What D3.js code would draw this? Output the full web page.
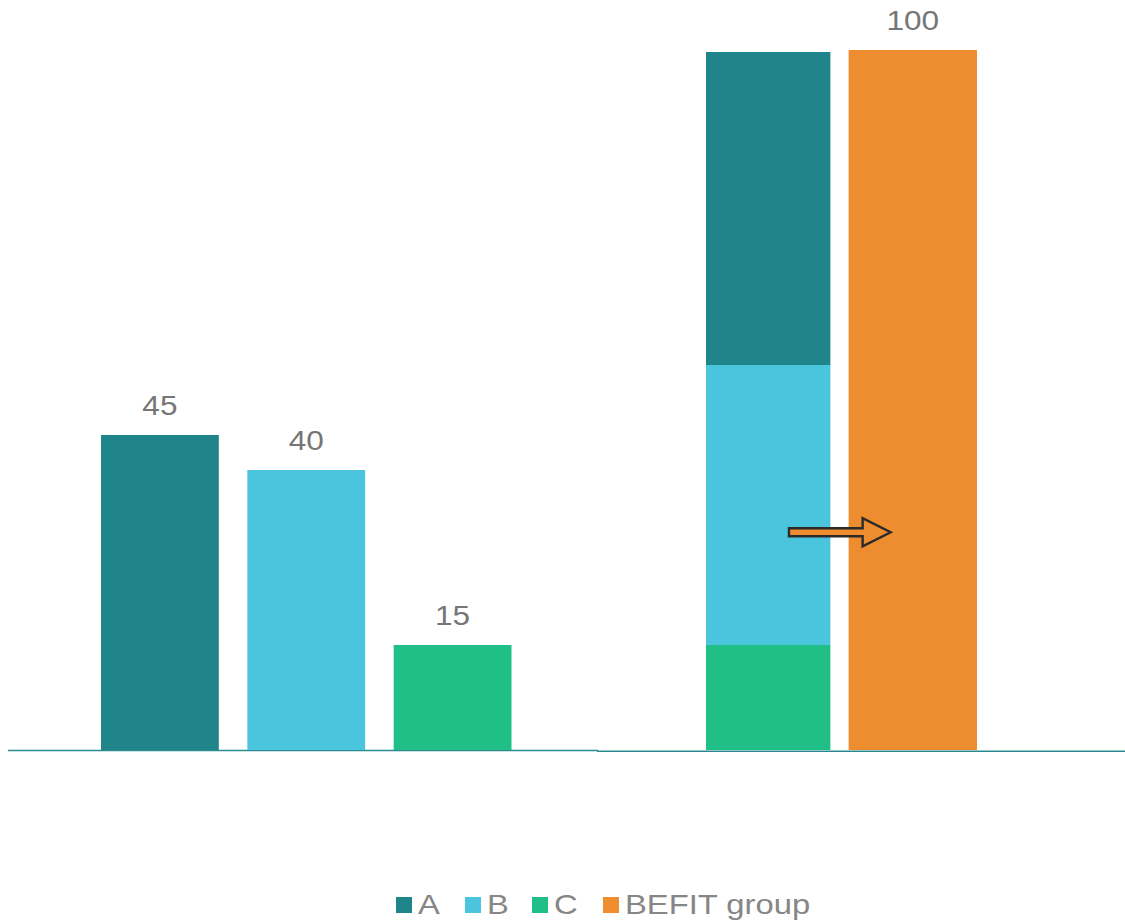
<!DOCTYPE html>
<html>
<head>
<meta charset="utf-8">
<script src="https://cdn.jsdelivr.net/npm/d3@7"></script>
<style>
  body { margin: 0; background: #fff; }
  text { font-family: "Liberation Sans", Arial, sans-serif; }
</style>
</head>
<body>
<div class="chart"></div>
<script>
// data
const categories = ["A", "B", "C"]
const values = [45, 40, 15]
const groupBars = ["Total", "BEFIT group"]
const befitValue = 100
const legendLabels = ["A", "B", "C", "BEFIT group"]

const colors = {A: "#1f858a", B: "#4bc4de", C: "#1fbf87", "BEFIT group": "#ee8c30"}

const width = 1125, height = 921
const stretch = 1.17 // text in the original looks a bit wider than Arial

const svg = d3.select(".chart").append("svg")
  .attr("width", width)
  .attr("height", height)

const yScale = d3.scaleLinear().domain([0, 100]).range([750, 50])

const xLeft = d3.scaleBand()
  .domain(categories)
  .range([101, 511.5])
  .paddingInner(0.195)
  .paddingOuter(0)

const xRight = d3.scaleBand()
  .domain(groupBars)
  .range([706, 977])
  .paddingInner(0.1)
  .paddingOuter(0)

// helper for stretched labels
function label(x, y, txt, size, fill, anchor) {
  svg.append("g")
    .attr("transform", `translate(${x},${y}) scale(${stretch},1)`)
    .append("text")
    .attr("text-anchor", anchor)
    .attr("font-size", size)
    .attr("fill", fill)
    .text(txt)
}

// baselines
svg.append("line")
  .attr("x1", 8).attr("x2", 598)
  .attr("y1", yScale(0) + 0.5).attr("y2", yScale(0) + 0.5)
  .attr("stroke", "#2a8a90").attr("stroke-width", 1.6)
svg.append("line")
  .attr("x1", 597).attr("x2", 1125)
  .attr("y1", yScale(0) + 1.2).attr("y2", yScale(0) + 1.2)
  .attr("stroke", "#2a8a90").attr("stroke-width", 1.6)

// left bars
svg.selectAll("rect.left").data(categories)
  .enter().append("rect")
  .attr("class", "left")
  .attr("x", d => xLeft(d))
  .attr("width", xLeft.bandwidth())
  .attr("y", (d, i) => yScale(values[i]))
  .attr("height", (d, i) => yScale(0) - yScale(values[i]))
  .attr("fill", d => colors[d])

categories.forEach((c, i) => {
  label(xLeft(c) + xLeft.bandwidth() / 2, yScale(values[i]) - 20, values[i], "27px", "#767676", "middle")
})

// stacked bar
const stackData = [Object.fromEntries(categories.map((c, i) => [c, values[i]]))]
const stacked = d3.stack().keys(categories.slice().reverse())(stackData)

svg.selectAll("rect.stack").data(stacked)
  .enter().append("rect")
  .attr("class", "stack")
  .attr("x", xRight("Total"))
  .attr("width", xRight.bandwidth() - 4)
  .attr("y", d => yScale(d[0][1]) + (d.key === "A" ? 2 : 0))
  .attr("height", d => yScale(d[0][0]) - yScale(d[0][1]) - (d.key === "A" ? 2 : 0))
  .attr("fill", d => colors[d.key])

// befit bar
svg.append("rect")
  .attr("x", xRight("BEFIT group"))
  .attr("width", xRight.bandwidth())
  .attr("y", yScale(befitValue))
  .attr("height", yScale(0) - yScale(befitValue))
  .attr("fill", colors["BEFIT group"])

label(xRight("BEFIT group") + xRight.bandwidth() / 2, yScale(befitValue) - 20, befitValue, "27px", "#767676", "middle")

// arrow
const ax0 = xRight("Total") + 83, ax1 = xRight("BEFIT group") + 42
const ay = yScale(31.1), headW = 28
const arrowPts = [
  [ax0, ay - 4], [ax1 - headW, ay - 4], [ax1 - headW, ay - 14], [ax1, ay],
  [ax1 - headW, ay + 14], [ax1 - headW, ay + 4], [ax0, ay + 4]
]
svg.append("path")
  .attr("d", d3.line()(arrowPts) + "Z")
  .attr("fill", "#ee8c30")
  .attr("stroke", "#2b2b2b")
  .attr("stroke-width", 2.4)
  .attr("stroke-linejoin", "miter")

// legend
const legendX = [396, 465, 532, 603]
const legend = svg.append("g")
legend.selectAll("rect").data(legendLabels)
  .enter().append("rect")
  .attr("x", (d, i) => legendX[i])
  .attr("y", 897)
  .attr("width", 16).attr("height", 16)
  .attr("fill", d => colors[d])
legendLabels.forEach((d, i) => {
  label(legendX[i] + 22, 914, d, "28px", "#868686", "start")
})
</script>
</body>
</html>
